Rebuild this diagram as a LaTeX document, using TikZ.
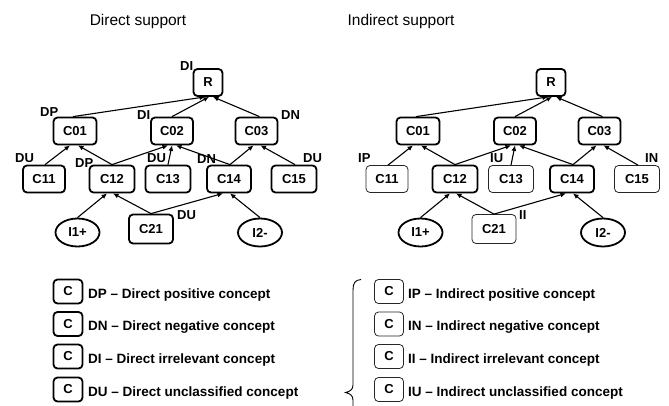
\documentclass[tikz,border=0pt]{standalone}
\usepackage{fontspec}
\setmainfont{Liberation Sans}
\usetikzlibrary{shapes.geometric,arrows.meta}
\begin{document}
\begin{tikzpicture}[x=1pt,y=-1pt,
  bf/.style={font=\fontsize{13}{13}\selectfont\bfseries},
  cbox/.style={draw, line width=1.8pt, rounded corners=4pt, minimum height=27pt, inner sep=0pt, bf},
  thinbox/.style={cbox, line width=0.8pt, draw=black!85},
  iell/.style={ellipse, draw, line width=1.8pt, minimum width=44pt, minimum height=28pt, inner sep=0pt, bf},
  arr/.style={-{Latex[length=5.5pt,width=5pt]}, line width=1.1pt},
  lbl/.style={anchor=west, inner sep=0pt, bf},
  legbox/.style={cbox, minimum width=29pt, minimum height=24pt},
  legthin/.style={legbox, line width=0.8pt, draw=black!85},
  legtxt/.style={anchor=base west, inner sep=0pt, font=\fontsize{13.5}{13.5}\selectfont\bfseries},
  title/.style={anchor=base, inner sep=0pt, font=\fontsize{15.5}{15.5}\selectfont}
]
\useasboundingbox (0,0) rectangle (669,405);
\clip (0,0) rectangle (669,405);

\node[title] (t1) at (138,25) {Direct support};
\node[title] (t2) at (401,25) {Indirect support};

\foreach \p/\dx/\ts in {L/0/cbox,R/343/thinbox}{
 \begin{scope}[xshift=\dx pt]
  \node[cbox, minimum width=29pt] (\p R) at (208,82.5) {R};
  \node[cbox, minimum width=43pt] (\p C01) at (75,131) {C01};
  \node[cbox, minimum width=42pt] (\p C02) at (172,131) {C02};
  \node[cbox, minimum width=42pt] (\p C03) at (256.5,131) {C03};
  \node[\ts, minimum width=42pt] (\p C11) at (44,179) {C11};
  \node[cbox, minimum width=45pt] (\p C12) at (112,179) {C12};
  \node[\ts, minimum width=45pt] (\p C13) at (168,179) {C13};
  \node[cbox, minimum width=44pt] (\p C14) at (229,179) {C14};
  \node[\ts, minimum width=45pt] (\p C15) at (294,179) {C15};
  \node[\ts, minimum width=44pt, minimum height=29pt] (\p C21) at (151,229) {C21};
  \node[iell] (\p I1) at (77.5,232.5) {I1+};
  \node[iell] (\p I2) at (260,232.5) {I2-};
  % edges
  \draw[arr] ([xshift=-2pt]\p C01.north) -- ([xshift=-3pt]\p R.south);
  \draw[arr] (\p C02.north) -- ([xshift=1pt]\p R.south);
  \draw[arr] ([xshift=3pt]\p C03.north) -- ([xshift=5pt]\p R.south);
  \draw[arr] ([xshift=1pt]\p C11.north) -- ([xshift=-5pt]\p C01.south);
  \draw[arr] (\p C12.north) -- ([xshift=3pt]\p C01.south);
  \draw[arr] (\p C12.north) -- ([xshift=-4pt]\p C02.south);
  \draw[arr] (\p C13.north) -- ([xshift=0pt]\p C02.south);
  \draw[arr] ([xshift=1pt]\p C14.north) -- ([xshift=4pt]\p C02.south);
  \draw[arr] ([xshift=1pt]\p C14.north) -- ([xshift=-3pt]\p C03.south);
  \draw[arr] ([xshift=1pt]\p C15.north) -- ([xshift=4pt]\p C03.south);
  \draw[arr] (\p I1.north) -- ([xshift=-5pt]\p C12.south);
  \draw[arr] (\p C21.north) -- ([xshift=1pt]\p C12.south);
  \draw[arr] (\p C21.north) -- ([xshift=-6pt]\p C14.south);
  \draw[arr] (\p I2.north) -- ([xshift=1pt]\p C14.south);
 \end{scope}
}

% labels, direct tree
\node[lbl] (lDIR) at (180,66) {DI};
\node[lbl] (lDP1) at (40,112) {DP};
\node[lbl] (lDI2) at (137,115) {DI};
\node[lbl] (lDN3) at (281,115) {DN};
\node[lbl] (lDU11) at (15,158) {DU};
\node[lbl] (lDP12) at (75,163) {DP};
\node[lbl] (lDU13) at (147,158) {DU};
\node[lbl] (lDN14) at (197,159) {DN};
\node[lbl] (lDU15) at (303,158) {DU};
\node[lbl] (lDU21) at (177,215) {DU};
% labels, indirect tree
\node[lbl] (lIP) at (358,158) {IP};
\node[lbl] (lIU) at (490,158) {IU};
\node[lbl] (lIN) at (645,158) {IN};
\node[lbl] (lII) at (519,215) {II};

% legend, direct
\node[legbox] (k1) at (68,291.5) {C};
\node[legbox] (k2) at (68,324) {C};
\node[legbox] (k3) at (68,356.5) {C};
\node[legbox] (k4) at (68,389.5) {C};
\node[legtxt] (k1t) at (88,298) {DP – Direct positive concept};
\node[legtxt] (k2t) at (88,330.5) {DN – Direct negative concept};
\node[legtxt] (k3t) at (88,363) {DI – Direct irrelevant concept};
\node[legtxt] (k4t) at (88,396) {DU – Direct unclassified concept};
% legend, indirect
\node[legthin] (m1) at (389,291.5) {C};
\node[legthin] (m2) at (389,324) {C};
\node[legthin] (m3) at (389,356.5) {C};
\node[legthin] (m4) at (389,389.5) {C};
\node[legtxt] (m1t) at (408,298) {IP – Indirect positive concept};
\node[legtxt] (m2t) at (408,330.5) {IN – Indirect negative concept};
\node[legtxt] (m3t) at (408,363) {II – Indirect irrelevant concept};
\node[legtxt] (m4t) at (408,396) {IU – Indirect unclassified concept};

% brace
\draw[line width=0.9pt] (361,279.5) .. controls (355,280) and (353,283) .. (353,290)
  -- (353,385) .. controls (353,389.5) and (350,391.5) .. (345.5,392.5)
  .. controls (350,393.5) and (353,395.5) .. (353,400) -- (353,412);
\end{tikzpicture}
\end{document}
